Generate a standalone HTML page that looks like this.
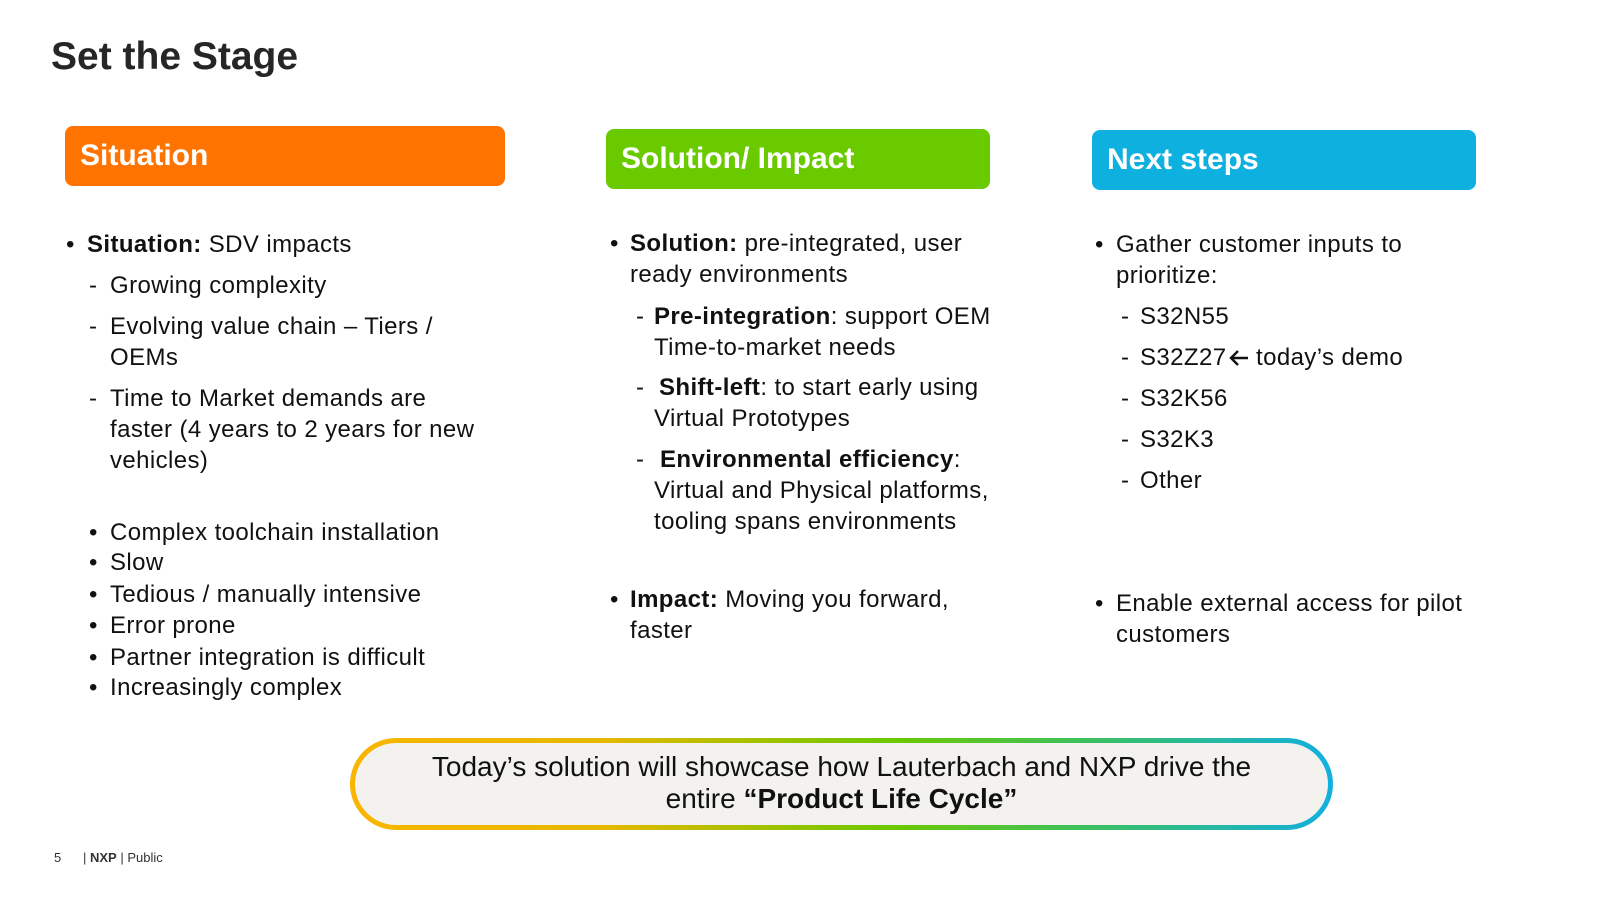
<!DOCTYPE html>
<html><head><meta charset="utf-8"><style>
body{margin:0;width:1600px;height:900px;background:#fff;position:relative;overflow:hidden;font-family:"Liberation Sans",sans-serif;color:#111}
.a{position:absolute;white-space:nowrap}
.t{font-size:24px;line-height:30px;letter-spacing:0.4px}
.h{position:absolute;border-radius:8px;color:#fff;font-weight:bold;font-size:30px;line-height:60px;padding-left:15px;box-sizing:border-box}
b{font-weight:bold}
</style></head><body>
<div class="a" style="left:51px;top:35px;font-size:39px;font-weight:bold;color:#262626">Set the Stage</div>

<div class="h" style="left:65px;top:126px;width:440px;height:60px;background:#FF7300">Situation</div>
<div class="h" style="left:606px;top:129px;width:384px;height:60px;background:#69CA00">Solution/ Impact</div>
<div class="h" style="left:1092px;top:130px;width:384px;height:60px;background:#0EB0E0">Next steps</div>

<!-- col1 -->
<div class="a t" style="left:66px;top:230px">•</div>
<div class="a t" style="left:87px;top:230px"><b>Situation:</b> SDV impacts</div>
<div class="a t" style="left:89px;top:271px">-</div><div class="a t" style="left:110px;top:271px">Growing complexity</div>
<div class="a t" style="left:89px;top:312px">-</div><div class="a t" style="left:110px;top:312px">Evolving value chain – Tiers /</div>
<div class="a t" style="left:110px;top:343px">OEMs</div>
<div class="a t" style="left:89px;top:384px">-</div><div class="a t" style="left:110px;top:384px">Time to Market demands are</div>
<div class="a t" style="left:110px;top:415px">faster (4 years to 2 years for new</div>
<div class="a t" style="left:110px;top:446px">vehicles)</div>
<div class="a t" style="left:89px;top:518px">•</div><div class="a t" style="left:110px;top:518px">Complex toolchain installation</div>
<div class="a t" style="left:89px;top:548px">•</div><div class="a t" style="left:110px;top:548px">Slow</div>
<div class="a t" style="left:89px;top:580px">•</div><div class="a t" style="left:110px;top:580px">Tedious / manually intensive</div>
<div class="a t" style="left:89px;top:611px">•</div><div class="a t" style="left:110px;top:611px">Error prone</div>
<div class="a t" style="left:89px;top:643px">•</div><div class="a t" style="left:110px;top:643px">Partner integration is difficult</div>
<div class="a t" style="left:89px;top:673px">•</div><div class="a t" style="left:110px;top:673px">Increasingly complex</div>

<!-- col2 -->
<div class="a t" style="left:610px;top:229px">•</div>
<div class="a t" style="left:630px;top:229px"><b>Solution:</b> pre-integrated, user</div>
<div class="a t" style="left:630px;top:260px">ready environments</div>
<div class="a t" style="left:636px;top:302px">-</div><div class="a t" style="left:654px;top:302px"><b>Pre-integration</b>: support OEM</div>
<div class="a t" style="left:654px;top:333px">Time-to-market needs</div>
<div class="a t" style="left:636px;top:373px">-</div><div class="a t" style="left:659px;top:373px"><b>Shift-left</b>: to start early using</div>
<div class="a t" style="left:654px;top:404px">Virtual Prototypes</div>
<div class="a t" style="left:636px;top:445px">-</div><div class="a t" style="left:660px;top:445px"><b>Environmental efficiency</b>:</div>
<div class="a t" style="left:654px;top:476px">Virtual and Physical platforms,</div>
<div class="a t" style="left:654px;top:507px">tooling spans environments</div>
<div class="a t" style="left:610px;top:585px">•</div>
<div class="a t" style="left:630px;top:585px"><b>Impact:</b> Moving you forward,</div>
<div class="a t" style="left:630px;top:616px">faster</div>

<!-- col3 -->
<div class="a t" style="left:1095px;top:230px">•</div>
<div class="a t" style="left:1116px;top:230px">Gather customer inputs to</div>
<div class="a t" style="left:1116px;top:261px">prioritize:</div>
<div class="a t" style="left:1121px;top:302px">-</div><div class="a t" style="left:1140px;top:302px">S32N55</div>
<div class="a t" style="left:1121px;top:343px">-</div><div class="a t" style="left:1140px;top:343px">S32Z27</div>
<svg style="position:absolute;left:1228px;top:349px" width="22" height="18"><path d="M20 9H3M10 2L3 9L10 16" stroke="#111" stroke-width="2.4" fill="none"/></svg>
<div class="a t" style="left:1256px;top:343px">today’s demo</div>
<div class="a t" style="left:1121px;top:384px">-</div><div class="a t" style="left:1140px;top:384px">S32K56</div>
<div class="a t" style="left:1121px;top:425px">-</div><div class="a t" style="left:1140px;top:425px">S32K3</div>
<div class="a t" style="left:1121px;top:466px">-</div><div class="a t" style="left:1140px;top:466px">Other</div>
<div class="a t" style="left:1095px;top:589px">•</div>
<div class="a t" style="left:1116px;top:589px">Enable external access for pilot</div>
<div class="a t" style="left:1116px;top:620px">customers</div>

<!-- pill -->
<div style="position:absolute;left:350px;top:738px;width:983px;height:92px;border-radius:46px;background:linear-gradient(90deg,#F9B500 0%,#E8B800 25%,#6CC800 55%,#3CC060 75%,#12B0E0 100%);padding:5px;box-sizing:border-box">
<div style="width:100%;height:100%;border-radius:41px;background:#F3F2EE;text-align:center;font-size:28px;line-height:32px;padding-top:8px;box-sizing:border-box;color:#111">Today’s solution will showcase how Lauterbach and NXP drive the<br>entire <b>“Product Life Cycle”</b></div>
</div>

<div class="a" style="left:54px;top:850px;font-size:13px;color:#333">5</div>
<div class="a" style="left:83px;top:850px;font-size:13px;color:#333">| <b>NXP</b> | Public</div>
</body></html>
